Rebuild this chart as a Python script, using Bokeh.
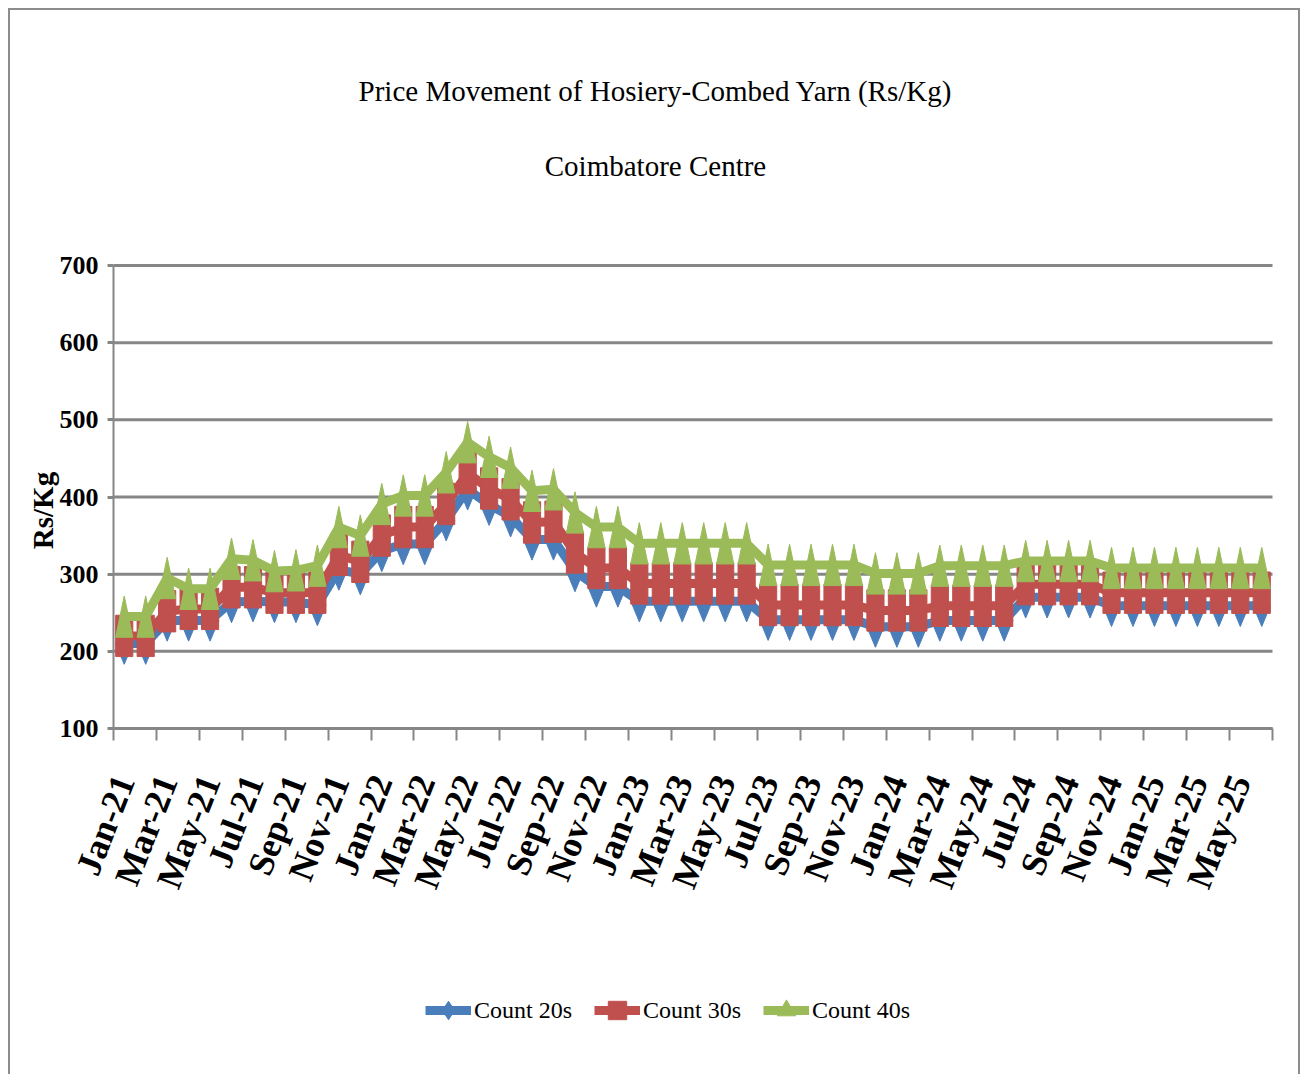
import numpy as np
from bokeh.plotting import figure
from bokeh.models import (FixedTicker, LinearAxis, Legend, LegendItem, Range1d, Label)
from bokeh.embed import file_html
from bokeh.resources import INLINE

# ---------------- data ----------------
month_names = ["Jan", "Feb", "Mar", "Apr", "May", "Jun", "Jul", "Aug", "Sep", "Oct", "Nov", "Dec"]
years = ["21", "22", "23", "24", "25"]
months = [f"{m}-{y}" for y in years for m in month_names][:54]   # Jan-21 .. Jun-25

count_20s = [210, 210, 240, 240, 240, 264, 265, 264, 264, 260, 306, 300,
             330, 339, 339, 370, 410, 390, 375, 345, 345, 304, 284, 284,
             265, 265, 265, 265, 265, 265, 241, 241, 241, 241, 241, 232,
             232, 232, 240, 240, 240, 240, 270, 270, 270, 270, 259, 259,
             259, 259, 259, 259, 259, 259]
count_30s = [220, 220, 252, 255, 255, 283, 283, 276, 276, 276, 325, 316,
             350, 361, 361, 391, 431, 411, 397, 367, 368, 328, 308, 308,
             288, 288, 288, 288, 288, 288, 260, 260, 260, 260, 260, 253,
             253, 253, 259, 259, 259, 259, 287, 287, 287, 287, 276, 276,
             276, 276, 276, 276, 276, 276]
count_40s = [245, 245, 295, 281, 281, 320, 318, 304, 305, 311, 361, 350,
             391, 402, 402, 432, 471, 452, 438, 408, 410, 380, 361, 361,
             340, 340, 340, 340, 340, 340, 312, 312, 312, 312, 312, 301,
             301, 301, 311, 311, 311, 311, 317, 317, 317, 317, 308, 308,
             308, 308, 308, 308, 308, 308]
y_ticks = [100, 200, 300, 400, 500, 600, 700]
series_names = ["Count 20s", "Count 30s", "Count 40s"]
colors = ["#4A7EBB", "#C0504D", "#9BBB59"]
title_main = "Price Movement of Hosiery-Combed Yarn (Rs/Kg)"
title_sub = "Coimbatore Centre"
y_title = "Rs/Kg"

x = list(range(len(months)))
X_START, X_END = -0.5, len(months) - 0.5

GRID = "#868686"
SERIF = "Liberation Serif"

# The frame covers the whole canvas, so titles, axis texts and legend all sit inside it.
# Layout: category axis from 103px to 1262px of the canvas, value 700 at 255px, 100 at 718px.
PX_PER_CAT = (1262 - 103) / len(months)
PX_PER_UNIT = 463.0 / 600.0
CANVAS_W, CANVAS_H = 1292, 1066
x_lo = X_START - 103 / PX_PER_CAT
x_hi = X_END + (CANVAS_W - 1262) / PX_PER_CAT
y_hi = 700 + 255 / PX_PER_UNIT
y_lo = 100 - (CANVAS_H - 718) / PX_PER_UNIT

p = figure(width=CANVAS_W, height=CANVAS_H, title=None,
           x_range=Range1d(x_lo, x_hi), y_range=Range1d(y_lo, y_hi),
           output_backend="svg", toolbar_location=None, x_axis_type=None,
           min_border_left=0, min_border_right=0, min_border_top=0,
           min_border_bottom=0, outline_line_color=None,
           background_fill_color="white", border_fill_color="white")
p.styles = {"margin-left": "8px", "margin-top": "8px",
            "border-top": "2px solid #8c8c8c", "border-left": "2px solid #8c8c8c",
            "border-right": "2px solid #8c8c8c"}
p.xgrid.visible = False
p.ygrid.visible = False

# horizontal grid lines across the category axis
p.segment(x0=[X_START] * len(y_ticks), y0=y_ticks, x1=[X_END] * len(y_ticks), y1=y_ticks,
          line_color=GRID, line_width=3)

# y axis at the left edge of the category axis
yax = p.yaxis[0]
yax.fixed_location = X_START
yax.ticker = FixedTicker(ticks=y_ticks)
yax.bounds = (100, 700)
yax.axis_line_color = GRID
yax.axis_line_width = 2
yax.major_tick_line_color = GRID
yax.major_tick_line_width = 3
yax.major_tick_out = 6
yax.major_tick_in = 0
yax.minor_tick_line_color = None
yax.major_label_text_font = SERIF
yax.major_label_text_font_style = "bold"
yax.major_label_text_font_size = "26px"
yax.major_label_text_color = "black"
yax.major_label_standoff = 9

# x axis at value 100: tick marks at category boundaries every two months
edge_ticks = [i - 0.5 for i in range(0, len(months) + 1, 2)]
tick_axis = LinearAxis(fixed_location=100, bounds=(X_START, X_END),
                       ticker=FixedTicker(ticks=edge_ticks),
                       axis_line_color=GRID, axis_line_width=3,
                       major_tick_line_color=GRID, major_tick_line_width=2,
                       major_tick_out=12, major_tick_in=0,
                       minor_tick_line_color=None,
                       major_label_text_font_size="0px",
                       major_label_overrides={t: "" for t in edge_ticks})
p.add_layout(tick_axis, "below")

label_ticks = list(range(0, len(months), 2))
label_axis = LinearAxis(fixed_location=100, bounds=(X_START, X_END),
                        ticker=FixedTicker(ticks=label_ticks),
                        major_label_overrides={i: months[i] for i in label_ticks},
                        axis_line_color=None, major_tick_line_color=None,
                        major_tick_out=0, major_tick_in=0,
                        minor_tick_line_color=None,
                        major_label_orientation=1.2,
                        major_label_standoff=48,
                        major_label_text_font=SERIF,
                        major_label_text_font_style="bold",
                        major_label_text_font_size="36px",
                        major_label_text_color="black")
p.add_layout(label_axis, "below")

# ---------------- series ----------------
hw = 0.4    # marker half width (categories)
hh = 26.8   # marker half height (Rs/Kg)

items = []
for name, vals, col, kind in zip(series_names, [count_20s, count_30s, count_40s], colors,
                                 ["diamond", "square", "triangle"]):
    mk = p.scatter(x, vals, marker=kind, size=1, fill_color=col, line_color=col)
    ln = p.line(x, vals, line_color=col, line_width=9, line_join="round")
    if kind == "diamond":
        xs = [[i - hw, i, i + hw, i] for i in x]
        ys = [[v, v + hh, v, v - hh] for v in vals]
        p.patches(xs, ys, fill_color=col, line_color=col, line_width=1)
    elif kind == "square":
        p.rect(x, vals, width=2 * hw, height=2 * hh, fill_color=col, line_color=col, line_width=1)
    else:
        xs = [[i - hw, i, i + hw] for i in x]
        ys = [[v - hh, v + hh, v - hh] for v in vals]
        p.patches(xs, ys, fill_color=col, line_color=col, line_width=1)
    items.append(LegendItem(label=name, renderers=[ln, mk]))

legend = Legend(items=items, location=(415, 43), orientation="horizontal",
                label_text_font=SERIF, label_text_font_size="24px", label_text_color="black",
                glyph_width=46, glyph_height=46, label_standoff=3, spacing=22,
                border_line_color=None, background_fill_alpha=0, padding=0, margin=0)
p.add_layout(legend, "center")

# ---------------- titles ----------------
p.add_layout(Label(x=645, y=986, x_units="screen", y_units="screen", text=title_main,
                   text_align="center", text_baseline="middle",
                   text_font=SERIF, text_font_size="29px", text_color="black"))
p.add_layout(Label(x=645, y=911, x_units="screen", y_units="screen", text=title_sub,
                   text_align="center", text_baseline="middle",
                   text_font=SERIF, text_font_size="29px", text_color="black"))
p.add_layout(Label(x=32, y=566, x_units="screen", y_units="screen", text=y_title,
                   angle=np.pi / 2, text_align="center", text_baseline="middle",
                   text_font=SERIF, text_font_style="bold", text_font_size="29px",
                   text_color="black"))

open("out.html", "w").write(file_html(p, INLINE))
